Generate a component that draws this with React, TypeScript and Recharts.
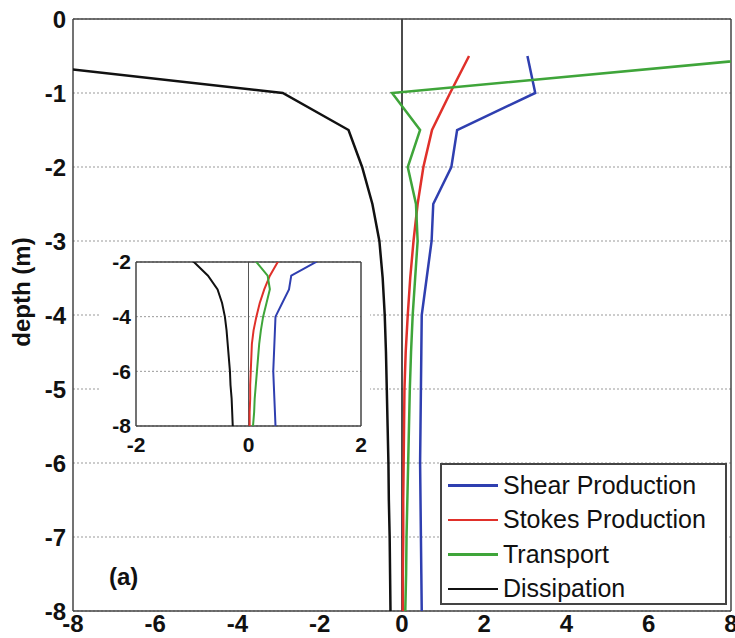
import React from "react";
import {
  ScatterChart,
  Scatter,
  XAxis,
  YAxis,
  CartesianGrid,
  ReferenceLine,
} from "recharts";

// depth levels (m) shared by every profile
const DEPTHS = [-0.5, -1, -1.5, -2, -2.5, -3, -3.5, -4, -4.5, -5, -5.5, -6, -6.5, -7, -7.5, -8];

const SHEAR = [3.05, 3.24, 1.34, 1.2, 0.76, 0.72, 0.6, 0.48, 0.47, 0.46, 0.45, 0.44, 0.45, 0.46, 0.47, 0.48];
const STOKES = [1.63, 1.17, 0.73, 0.52, 0.38, 0.28, 0.2, 0.14, 0.09, 0.06, 0.05, 0.04, 0.03, 0.03, 0.02, 0.02];
const TRANSPORT = [9.4, -0.24, 0.44, 0.14, 0.34, 0.38, 0.32, 0.26, 0.22, 0.19, 0.17, 0.15, 0.13, 0.11, 0.1, 0.08];
const DISSIPATION = [-10.9, -2.9, -1.3, -0.97, -0.72, -0.55, -0.47, -0.42, -0.39, -0.37, -0.35, -0.33, -0.32, -0.3, -0.29, -0.28];

const X_TICKS = [-8, -6, -4, -2, 0, 2, 4, 6, 8];
const Y_TICKS = [0, -1, -2, -3, -4, -5, -6, -7, -8];
const INSET_X_TICKS = [-2, 0, 2];
const INSET_Y_TICKS = [-2, -4, -6, -8];

const SERIES = [
  { name: "Shear Production", values: SHEAR, color: "#2f3fb0" },
  { name: "Stokes Production", values: STOKES, color: "#e0302a" },
  { name: "Transport", values: TRANSPORT, color: "#3fa53a" },
  { name: "Dissipation", values: DISSIPATION, color: "#111111" },
];

const FONT = "'Liberation Sans', Arial, sans-serif";
const AXIS = "#444";

const toPoints = (values: number[]) => values.map((x, i) => ({ x, y: DEPTHS[i] }));

const blank = () => "";

const Profiles = ({ width }: { width: number }) =>
  SERIES.map((s) => (
    <Scatter
      key={s.name}
      name={s.name}
      data={toPoints(s.values)}
      line={{ stroke: s.color, strokeWidth: width }}
      shape={() => <g />}
      isAnimationActive={false}
    />
  ));

// matlab style box: four axis lines with inward tick marks (mirrored, unlabeled, 1px thick)
const boxAxes = (xDomain: number[], yDomain: number[], xTicks: number[], yTicks: number[], size: number) => {
  const line = { stroke: AXIS, strokeWidth: 1.5 };
  return [
    <XAxis key="bt" xAxisId="bt" orientation="bottom" mirror type="number" domain={xDomain} ticks={xTicks} interval={0} height={1} tickFormatter={blank} tickSize={size} axisLine={false} tickLine={line} />,
    <XAxis key="tp" xAxisId="tp" orientation="top" mirror type="number" domain={xDomain} ticks={xTicks} interval={0} height={1} tickFormatter={blank} tickSize={size} axisLine={line} tickLine={line} />,
    <YAxis key="lt" yAxisId="lt" orientation="left" mirror type="number" domain={yDomain} ticks={yTicks} interval={0} width={1} tickFormatter={blank} tickSize={size} axisLine={false} tickLine={line} />,
    <YAxis key="rt" yAxisId="rt" orientation="right" mirror type="number" domain={yDomain} ticks={yTicks} interval={0} width={1} tickFormatter={blank} tickSize={size} axisLine={line} tickLine={line} />,
  ];
};

const Inset: React.FC = () => {
  const tick = { fontSize: 21, fontWeight: "bold", fill: "#111", fontFamily: FONT };
  return (
    <div style={{ position: "absolute", left: 100, top: 250, width: 270, height: 205, background: "#fff" }}>
      <ScatterChart width={270} height={205} margin={{ top: 12, right: 9, bottom: 0, left: 0 }}>
        <CartesianGrid horizontal vertical={false} stroke="#999" strokeDasharray="2 2" />
        {boxAxes([-2, 2], [-8, -2], INSET_X_TICKS, INSET_Y_TICKS, 3)}
        <XAxis
          type="number"
          dataKey="x"
          domain={[-2, 2]}
          ticks={INSET_X_TICKS}
          interval={0}
          allowDataOverflow
          height={29}
          tick={tick}
          tickSize={0}
          tickMargin={11}
          axisLine={{ stroke: AXIS, strokeWidth: 1.5 }}
          tickLine={false}
        />
        <YAxis
          type="number"
          dataKey="y"
          domain={[-8, -2]}
          ticks={INSET_Y_TICKS}
          interval={0}
          allowDataOverflow
          width={36}
          tick={tick}
          tickSize={0}
          tickMargin={5}
          axisLine={{ stroke: AXIS, strokeWidth: 1.5 }}
          tickLine={false}
        />
        <ReferenceLine x={0} stroke="#555" strokeWidth={1} />
        {Profiles({ width: 2 })}
      </ScatterChart>
    </div>
  );
};

const Legend: React.FC = () => (
  <div
    style={{
      position: "absolute",
      left: 440,
      top: 463,
      width: 287,
      height: 142,
      boxSizing: "border-box",
      border: `2px solid ${AXIS}`,
      background: "#fff",
      fontFamily: FONT,
      fontSize: 25,
      color: "#111",
      paddingTop: 3,
    }}
  >
    {SERIES.map((s) => (
      <div key={s.name} style={{ display: "flex", alignItems: "center", height: 34.5 }}>
        <div style={{ width: 50, height: 2.5, background: s.color, marginLeft: 6, marginRight: 5 }} />
        <span style={{ whiteSpace: "nowrap" }}>{s.name}</span>
      </div>
    ))}
  </div>
);

export default function App() {
  const tick = { fontSize: 24, fontWeight: "bold", fill: "#111", fontFamily: FONT };
  return (
    <div style={{ position: "absolute", left: 0, top: 0, width: 735, height: 638, background: "#fff", overflow: "hidden" }}>
      <ScatterChart width={735} height={638} margin={{ top: 19, right: 4, bottom: 0, left: 0 }}>
        <CartesianGrid horizontal vertical={false} stroke="#999" strokeDasharray="2 2" />
        {boxAxes([-8, 8], [-8, 0], X_TICKS, Y_TICKS, 7)}
        <XAxis
          type="number"
          dataKey="x"
          domain={[-8, 8]}
          ticks={X_TICKS}
          interval={0}
          allowDataOverflow
          height={27}
          tick={tick}
          tickSize={0}
          tickMargin={4}
          axisLine={{ stroke: AXIS, strokeWidth: 1.5 }}
          tickLine={false}
        />
        <YAxis
          type="number"
          dataKey="y"
          domain={[-8, 0]}
          ticks={Y_TICKS}
          interval={0}
          allowDataOverflow
          width={73}
          tick={tick}
          tickSize={0}
          tickMargin={7}
          axisLine={{ stroke: AXIS, strokeWidth: 1.5 }}
          tickLine={false}
        />
        <ReferenceLine x={0} stroke="#111" strokeWidth={1.5} />
        {Profiles({ width: 2.5 })}
      </ScatterChart>
      <div
        style={{
          position: "absolute",
          left: 22,
          top: 292,
          transform: "translate(-50%, -50%) rotate(-90deg)",
          fontFamily: FONT,
          fontSize: 24,
          fontWeight: "bold",
          whiteSpace: "nowrap",
          color: "#111",
        }}
      >
        depth (m)
      </div>
      <div
        style={{
          position: "absolute",
          left: 109,
          top: 563,
          fontFamily: FONT,
          fontSize: 24,
          fontWeight: "bold",
          color: "#111",
        }}
      >
        (a)
      </div>
      <Inset />
      <Legend />
    </div>
  );
}
